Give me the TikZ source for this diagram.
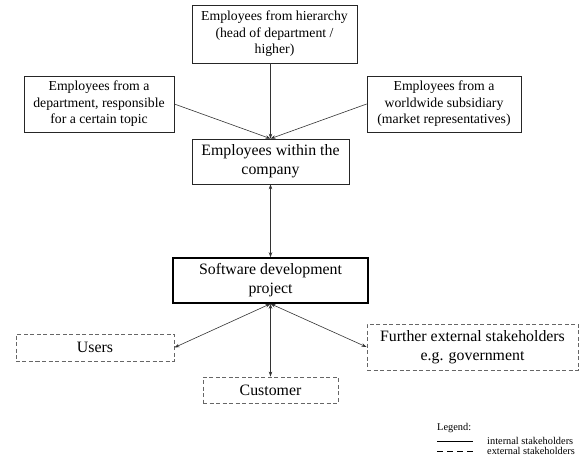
\documentclass[tikz,border=0pt]{standalone}
\usepackage{fontspec}
\setmainfont{Liberation Serif}
\usetikzlibrary{arrows.meta}
\begin{document}
\begin{tikzpicture}[x=1bp,y=-1bp,
  box/.style={draw=black!85,line width=0.7bp,inner sep=0pt,align=center,font=\fontsize{13.8}{16.5}\selectfont},
  bigbox/.style={draw=black!85,line width=0.7bp,inner sep=0pt,align=center,font=\fontsize{15.9}{19.2}\selectfont},
  extbox/.style={draw=black!60,line width=0.9bp,dash pattern=on 4bp off 2.5bp,inner sep=0pt,align=center,font=\fontsize{15.9}{19.2}\selectfont},
  conn/.style={draw=black!80,line width=0.6bp,-{Stealth[length=5bp,width=3.5bp]}},
  biconn/.style={draw=black!80,line width=0.6bp,{Stealth[length=5bp,width=3.5bp]}-{Stealth[length=5bp,width=3.5bp]}},
  legtext/.style={anchor=west,inner sep=0pt,font=\fontsize{10.4}{12}\selectfont}]
\useasboundingbox (0,0) rectangle (580,459);
\node[box,minimum width=165bp,minimum height=58bp] (top) at (274.5,34) {Employees from hierarchy\\(head of department /\\higher)};
\node[box,minimum width=150bp,minimum height=56bp] (left) at (99,104) {Employees from a\\department, responsible\\for a certain topic};
\node[box,minimum width=154bp,minimum height=56bp] (right) at (444,104) {Employees from a\\worldwide subsidiary\\(market representatives)};
\node[bigbox,minimum width=157bp,minimum height=45bp] (emp) at (270.5,161.5) {Employees within the\\company};
\node[bigbox,line width=1.5bp,draw=black,minimum width=195bp,minimum height=45bp] (sw) at (270.5,280.5) {Software development\\project};
\node[extbox,minimum width=158bp,minimum height=27bp] (users) at (95,347.5) {Users};
\node[extbox,minimum width=135bp,minimum height=26bp] (cust) at (270.5,390) {Customer};
\node[extbox,minimum width=211bp,minimum height=46bp] (further) at (472.5,347) {Further external stakeholders\\e.g. government};
\draw[conn] (emp.north |- top.south) -- (emp.north);
\draw[conn] (left.east) -- (emp.north);
\draw[conn] (right.west) -- (emp.north);
\draw[biconn] (emp.south) -- (sw.north);
\draw[biconn] (sw.south) -- (users.east);
\draw[biconn] (sw.south) -- (cust.north);
\draw[biconn] (sw.south) -- (further.west);
\node[legtext] (leg) at (437,428) {Legend:};
\coordinate (l1a) at (437,441);
\coordinate (l1b) at (473,441);
\coordinate (l2a) at (437,451);
\coordinate (l2b) at (473,451);
\draw[line width=0.7bp] (l1a) -- (l1b);
\draw[line width=0.7bp,dash pattern=on 6bp off 4bp] (l2a) -- (l2b);
\node[legtext] (int) at (487,441) {internal stakeholders};
\node[legtext] (ext) at (487,451) {external stakeholders};
\end{tikzpicture}
\end{document}
